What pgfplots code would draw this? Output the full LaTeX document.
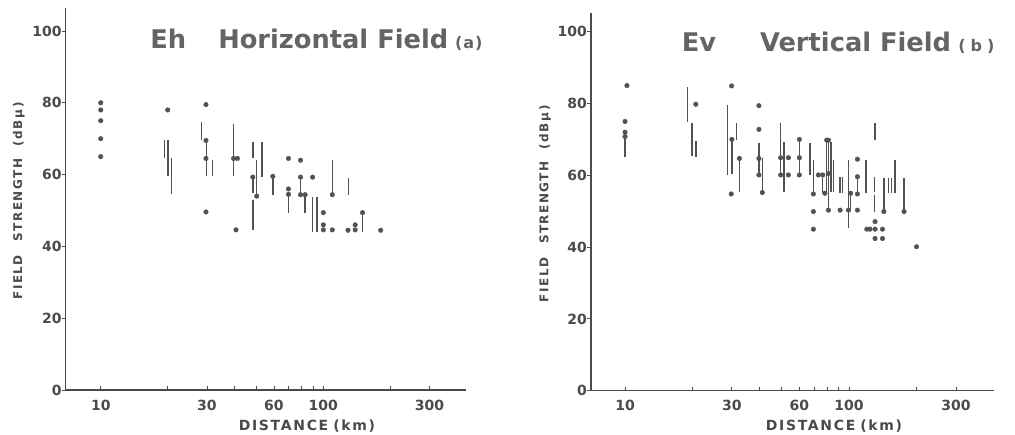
\documentclass[border=0pt]{standalone}
\usepackage{fontspec}
\setmainfont{DejaVu Sans}
\newfontfamily\spacedfont[LetterSpace=12]{DejaVu Sans}
\usepackage{pgfplots}
\usepackage{pgfplotstable}
\pgfplotsset{compat=1.18}

\definecolor{ink}{HTML}{4A4A4A}
\definecolor{titleink}{HTML}{646464}
\definecolor{dotgray}{HTML}{525252}

% (a) horizontal field: single readings
\pgfplotstableread{
x y
10 80
10 78
10 75
10 70
10 65
20 78
29.7 79.5
29.7 69.5
29.7 64.5
29.7 49.6
39.5 64.5
41.1 64.5
40.5 44.6
48.2 59.3
50.2 54
59.3 59.5
69.7 64.5
69.7 56
69.7 54.5
79 64
79 59.3
79 54.4
82.8 54.4
89.5 59.3
100 49.4
100 46
100 44.6
109.7 54.4
109.7 44.6
129 44.5
139 44.6
139 46
150 49.4
181 44.5
}\ehdots
% (a) horizontal field: ranges, one segment per pair, nan between
\pgfplotstableread{
x y
19.3 64.5
19.3 69.5
19.3 nan
20.1 59.5
20.1 69.5
20.1 nan
20.8 54.5
20.8 64.5
20.8 nan
28.4 69.6
28.4 74.7
28.4 nan
29.9 59.5
29.9 69.5
29.9 nan
31.7 59.5
31.7 64
31.7 nan
39.5 59.6
39.5 74
39.5 nan
48.2 64.5
48.2 69.2
48.2 nan
48.2 54.9
48.2 59.2
48.2 nan
48.2 44.6
48.2 52.9
48.2 nan
50.2 54
50.2 64
50.2 nan
52.9 59.4
52.9 69.2
52.9 nan
59.3 54.3
59.3 59.5
59.3 nan
69.7 49.2
69.7 54.3
69.7 nan
79 54.3
79 59.2
79 nan
82.8 49.2
82.8 54.3
82.8 nan
89.5 44.1
89.5 53.8
89.5 nan
93.4 44.1
93.4 53.8
93.4 nan
109.7 54.3
109.7 64
109.7 nan
129.4 54.3
129.4 59
129.4 nan
150 44
150 49.4
}\ehbars
% (b) vertical field: single readings
\pgfplotstableread{
x y
10.2 85
10 75
10 72
10 70.8
20.7 79.8
29.9 84.9
30 70
29.8 54.8
32.4 64.7
39.6 79.4
39.6 72.8
39.6 64.7
39.6 60.1
41 55.2
49.5 64.9
49.5 60.1
53.6 64.9
53.6 60.1
60 70
60 64.9
60 60.1
69.3 54.8
69.3 49.9
69.3 45
73 60.1
76.3 60.1
78 55
79.5 69.8
80.9 69.8
80.9 60.5
80.9 50.3
91.2 50.3
99.4 50.3
101.6 55
109 64.5
109 59.6
109 54.8
109 50.3
120 45
124 45
130.6 47.1
130.6 45
130.6 42.4
141 45
141 42.4
143 49.9
176 49.9
200 40.1
}\evdots
% (b) vertical field: ranges, one segment per pair, nan between
\pgfplotstableread{
x y
10 65
10 71.7
10 nan
19 74.9
19 84.5
19 nan
19.9 65.4
19.9 74.5
19.9 nan
20.7 65
20.7 69.5
20.7 nan
28.7 60.1
28.7 79.6
28.7 nan
30 60.5
30 70
30 nan
31.5 69.8
31.5 74.5
31.5 nan
32.4 55.4
32.4 64.7
32.4 nan
39.6 60.1
39.6 69.1
39.6 nan
41 55
41 64.7
41 nan
49.5 60.1
49.5 74.5
49.5 nan
51.3 55.4
51.3 69.4
51.3 nan
60 60.1
60 70
60 nan
67 60.1
67 68.9
67 nan
69.3 54.8
69.3 64.3
69.3 nan
76.3 55
76.3 60.1
76.3 nan
79.5 55
79.5 69.8
79.5 nan
80.9 50.3
80.9 69.8
80.9 nan
82.9 55.4
82.9 69.4
82.9 nan
85 55.4
85 64.3
85 nan
91.2 55
91.2 59.6
91.2 nan
93.7 55
93.7 59.6
93.7 nan
99.4 45.2
99.4 64.3
99.4 nan
101.6 50.3
101.6 55
101.6 nan
109 54.8
109 59.6
109 nan
119 55
119 64.3
119 nan
130.7 69.8
130.7 74.5
130.7 nan
129.7 55.4
129.7 59.6
129.7 nan
129.7 49.9
129.7 54.5
129.7 nan
143 49.9
143 59.2
143 nan
149.7 55
149.7 59.2
149.7 nan
155 55
155 59.2
155 nan
160 55
160 64.3
160 nan
176 49.9
176 59.2
}\evbars

\tikzset{
  titlefont/.style={anchor=base west, inner sep=0pt, text=titleink,
    font=\bfseries\fontsize{25.7bp}{25.7bp}\selectfont},
  tagfont/.style={anchor=base west, inner sep=0pt, text=titleink,
    font=\bfseries\fontsize{16bp}{16bp}\selectfont},
}

\begin{document}
\begin{tikzpicture}
\useasboundingbox (0,0) rectangle (1015bp,435bp);

\begin{axis}[at={(65.7bp,45bp)}, anchor=south west,
  scale only axis, clip=false,
  width=400bp, height=382bp,
  xmode=log, xmin=6.96, xmax=436, ymin=0, ymax=106.4,
  axis lines*=left,
  axis line style={ink, line width=1.3bp},
  xtick={10,30,60,100,300}, xticklabels={10,30,60,100,300},
  minor xtick={20,40,50,70,80,90,200},
  ytick={0,20,40,60,80,100}, yticklabels={0,20,40,60,80,100},
  tick align=inside, major tick length=4bp, minor tick length=4bp,
  tick style={ink, line width=0.9bp},
  ytick style={xshift=-4bp},
  /pgf/number format/assume math mode=true,
  ticklabel style={font=\bfseries\fontsize{14bp}{14bp}\selectfont, text=ink},
  xticklabel style={anchor=base, yshift=-20bp},
  yticklabel style={anchor=east, inner sep=0pt, xshift=-4bp},
  xlabel={DISTANCE\hspace{5bp}(km)},
  xlabel style={at={(rel axis cs:0.603,0)}, anchor=base, yshift=-40bp,
    font=\spacedfont\bfseries\fontsize{14bp}{14bp}\selectfont, text=ink},
  ylabel={FIELD\hspace{14bp}STRENGTH\hspace{12bp}(\,dBμ\,)},
  ylabel style={at={(rel axis cs:-0.117,0.495)}, anchor=center,
    font=\spacedfont\bfseries\fontsize{12bp}{12bp}\selectfont, text=ink}]
  \addplot[dotgray, line width=1.5bp, mark=none, unbounded coords=jump]
    table[x=x, y=y] {\ehbars};
  \addplot[only marks, mark=*, mark size=2.3bp, color=dotgray]
    table[x=x, y=y] {\ehdots};
  \node[titlefont] at (rel axis cs:0.211,0.893) {Eh};
  \node[titlefont] at (rel axis cs:0.381,0.893) {Horizontal Field};
  \node[tagfont] at (rel axis cs:0.973,0.893) {(\kern1bp a\kern1bp)};
\end{axis}

\begin{axis}[at={(591bp,44.3bp)}, anchor=south west,
  scale only axis, clip=false,
  width=403bp, height=378bp,
  xmode=log, xmin=7.05, xmax=443.6, ymin=0, ymax=105.3,
  axis lines*=left,
  axis line style={ink, line width=1.3bp},
  xtick={10,30,60,100,300}, xticklabels={10,30,60,100,300},
  minor xtick={20,40,50,70,80,90,200},
  ytick={0,20,40,60,80,100}, yticklabels={0,20,40,60,80,100},
  tick align=inside, major tick length=4bp, minor tick length=4bp,
  tick style={ink, line width=0.9bp},
  ytick style={xshift=-4bp},
  /pgf/number format/assume math mode=true,
  ticklabel style={font=\bfseries\fontsize{14bp}{14bp}\selectfont, text=ink},
  xticklabel style={anchor=base, yshift=-20bp},
  yticklabel style={anchor=east, inner sep=0pt, xshift=-4bp},
  xlabel={DISTANCE\hspace{5bp}(km)},
  xlabel style={at={(rel axis cs:0.603,0)}, anchor=base, yshift=-40bp,
    font=\spacedfont\bfseries\fontsize{14bp}{14bp}\selectfont, text=ink},
  ylabel={FIELD\hspace{14bp}STRENGTH\hspace{12bp}(\,dBμ\,)},
  ylabel style={at={(rel axis cs:-0.114,0.495)}, anchor=center,
    font=\spacedfont\bfseries\fontsize{12bp}{12bp}\selectfont, text=ink}]
  \addplot[dotgray, line width=1.5bp, mark=none, unbounded coords=jump]
    table[x=x, y=y] {\evbars};
  \addplot[only marks, mark=*, mark size=2.3bp, color=dotgray]
    table[x=x, y=y] {\evdots};
  \node[titlefont] at (rel axis cs:0.225,0.897) {Ev};
  \node[titlefont] at (rel axis cs:0.419,0.897) {Vertical Field};
  \node[tagfont] at (rel axis cs:0.911,0.897) {(\kern5bp b\kern5bp)};
\end{axis}
\end{tikzpicture}
\end{document}
